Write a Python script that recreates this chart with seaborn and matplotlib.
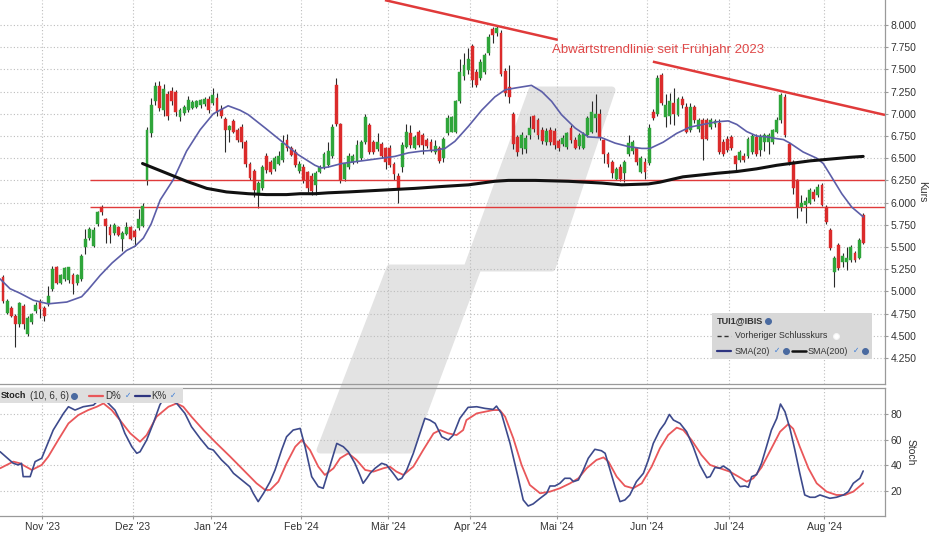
import numpy as np
import matplotlib
matplotlib.use("Agg")
import matplotlib.pyplot as plt
import seaborn as sns
from matplotlib.patches import Polygon, Rectangle
from matplotlib.lines import Line2D

# ---------------- data ----------------
open_ = [5.16, 4.76, 4.81, 4.72, 4.63, 4.83, 4.52, 4.65, 4.78, 4.89,
         4.81, 4.86, 5.03, 5.28, 5.10, 5.14, 5.13, 5.19, 5.09, 5.14,
         5.50, 5.60, 5.51, 5.76, 5.95, 5.81, 5.73, 5.66, 5.72, 5.59,
         5.65, 5.72, 5.68, 5.71, 5.74, 6.25, 6.78, 7.14, 7.31, 7.04,
         7.22, 7.26, 7.24, 6.96, 7.01, 7.04, 7.07, 7.08, 7.10, 7.11,
         7.17, 7.12, 7.18, 7.05, 6.94, 6.82, 6.92, 6.82, 6.85, 6.68,
         6.44, 6.36, 6.08, 6.16, 6.52, 6.46, 6.38, 6.44, 6.48, 6.70,
         6.61, 6.57, 6.36, 6.40, 6.34, 6.30, 6.20, 6.35, 6.40, 6.42,
         6.52, 7.32, 6.88, 6.27, 6.40, 6.46, 6.47, 6.50, 6.68, 6.87,
         6.68, 6.60, 6.66, 6.61, 6.61, 6.44, 6.30, 6.40, 6.63, 6.78,
         6.62, 6.80, 6.76, 6.71, 6.68, 6.57, 6.61, 6.50, 6.78, 6.80,
         6.80, 7.14, 7.42, 7.49, 7.76, 7.47, 7.40, 7.47, 7.68, 7.96,
         7.91, 7.91, 7.48, 7.30, 7.00, 6.74, 6.62, 6.60, 6.76, 6.97,
         6.93, 6.82, 6.68, 6.82, 6.81, 6.69, 6.66, 6.63, 6.84, 6.71,
         6.64, 6.62, 6.76, 6.80, 6.95, 7.00, 6.70, 6.55, 6.46, 6.27,
         6.40, 6.33, 6.55, 6.58, 6.61, 6.35, 6.46, 6.45, 7.02, 7.00,
         7.44, 6.96, 6.98, 7.12, 6.99, 7.17, 7.08, 6.82, 7.08, 6.83,
         6.93, 6.93, 6.85, 6.89, 6.90, 6.68, 6.72, 6.74, 6.52, 6.48,
         6.53, 6.53, 6.57, 6.74, 6.59, 6.68, 6.68, 6.68, 6.80, 6.93,
         7.19, 6.66, 6.46, 6.25, 5.95, 5.97, 6.00, 6.12, 6.08, 6.20,
         5.95, 5.69, 5.22, 5.52, 5.33, 5.33, 5.35, 5.43, 5.38, 5.86]
high = [5.19, 4.91, 4.83, 4.74, 4.88, 4.86, 4.72, 4.76, 4.88, 4.91,
        4.83, 5.06, 5.29, 5.29, 5.20, 5.28, 5.28, 5.21, 5.20, 5.42,
        5.70, 5.72, 5.72, 5.91, 5.97, 5.83, 5.76, 5.77, 5.74, 5.68,
        5.78, 5.74, 5.70, 5.93, 6.00, 6.85, 7.18, 7.36, 7.37, 7.33,
        7.26, 7.30, 7.27, 7.06, 7.10, 7.20, 7.15, 7.16, 7.17, 7.19,
        7.20, 7.29, 7.23, 7.10, 6.96, 6.87, 6.94, 6.84, 6.88, 6.70,
        6.46, 6.38, 6.24, 6.42, 6.56, 6.48, 6.52, 6.58, 6.76, 6.77,
        6.64, 6.60, 6.47, 6.43, 6.36, 6.33, 6.36, 6.42, 6.57, 6.68,
        6.88, 7.40, 6.90, 6.45, 6.56, 6.55, 6.70, 6.70, 7.00, 6.90,
        6.70, 6.78, 6.68, 6.63, 6.65, 6.46, 6.33, 6.68, 6.88, 6.87,
        6.76, 6.82, 6.78, 6.73, 6.72, 6.70, 6.64, 6.74, 6.99, 6.98,
        7.16, 7.62, 7.68, 7.74, 7.79, 7.50, 7.62, 7.68, 7.90, 7.98,
        8.00, 7.94, 7.52, 7.55, 7.02, 6.76, 6.80, 6.76, 6.98, 6.99,
        6.95, 6.85, 6.84, 6.85, 6.84, 6.72, 6.76, 6.80, 6.87, 6.74,
        6.78, 6.80, 6.97, 7.14, 7.22, 7.05, 6.72, 6.57, 6.48, 6.40,
        6.43, 6.48, 6.76, 6.70, 6.63, 6.52, 6.50, 6.88, 7.05, 7.44,
        7.46, 7.22, 7.23, 7.29, 7.19, 7.20, 7.12, 7.12, 7.10, 6.95,
        6.95, 6.95, 6.95, 6.94, 6.94, 6.72, 6.75, 6.76, 6.54, 6.59,
        6.56, 6.74, 6.77, 6.77, 6.77, 6.78, 6.78, 6.83, 6.96, 7.23,
        7.22, 6.68, 6.48, 6.27, 6.08, 6.06, 6.16, 6.15, 6.21, 6.22,
        5.97, 5.71, 5.40, 5.54, 5.43, 5.50, 5.52, 5.46, 5.60, 5.88]
low = [4.87, 4.74, 4.71, 4.37, 4.60, 4.58, 4.50, 4.63, 4.76, 4.70,
       4.67, 4.84, 5.00, 5.08, 5.08, 5.12, 5.10, 4.97, 5.07, 5.12,
       5.42, 5.58, 5.50, 5.74, 5.86, 5.55, 5.55, 5.64, 5.62, 5.46,
       5.63, 5.58, 5.51, 5.69, 5.72, 6.20, 6.74, 7.10, 7.03, 6.98,
       6.93, 7.10, 6.98, 6.92, 6.99, 7.02, 7.05, 7.06, 7.07, 7.09,
       7.01, 7.10, 6.98, 6.95, 6.57, 6.68, 6.78, 6.68, 6.62, 6.40,
       6.26, 6.06, 5.94, 6.14, 6.33, 6.32, 6.36, 6.42, 6.46, 6.58,
       6.52, 6.40, 6.33, 6.22, 6.12, 6.08, 6.08, 6.33, 6.38, 6.40,
       6.50, 6.86, 6.22, 6.24, 6.38, 6.44, 6.45, 6.48, 6.66, 6.55,
       6.55, 6.58, 6.50, 6.38, 6.40, 6.26, 6.00, 6.35, 6.61, 6.62,
       6.60, 6.63, 6.55, 6.62, 6.57, 6.55, 6.45, 6.46, 6.76, 6.79,
       6.78, 7.12, 7.38, 7.45, 7.30, 7.30, 7.38, 7.45, 7.66, 7.80,
       7.88, 7.43, 7.20, 7.12, 6.60, 6.53, 6.55, 6.56, 6.72, 6.80,
       6.72, 6.66, 6.65, 6.65, 6.60, 6.58, 6.64, 6.60, 6.67, 6.60,
       6.60, 6.60, 6.74, 6.78, 6.80, 6.70, 6.45, 6.40, 6.28, 6.25,
       6.24, 6.23, 6.52, 6.55, 6.42, 6.33, 6.27, 6.42, 6.93, 6.97,
       7.10, 6.85, 6.89, 6.87, 6.97, 7.06, 6.78, 6.80, 6.90, 6.80,
       6.48, 6.70, 6.83, 6.85, 6.55, 6.53, 6.57, 6.59, 6.37, 6.46,
       6.46, 6.50, 6.55, 6.53, 6.53, 6.58, 6.55, 6.66, 6.78, 6.90,
       6.74, 6.42, 6.10, 5.83, 5.90, 5.77, 5.98, 6.02, 6.06, 5.96,
       5.76, 5.47, 5.05, 5.24, 5.28, 5.24, 5.33, 5.33, 5.36, 5.53]
close = [4.89, 4.89, 4.72, 4.63, 4.87, 4.63, 4.70, 4.74, 4.85, 4.80,
         4.72, 4.95, 5.25, 5.10, 5.19, 5.26, 5.27, 5.08, 5.18, 5.40,
         5.59, 5.70, 5.69, 5.89, 5.89, 5.74, 5.63, 5.75, 5.63, 5.66,
         5.72, 5.59, 5.61, 5.81, 5.96, 6.82, 7.10, 7.31, 7.06, 7.28,
         6.98, 7.14, 7.02, 7.04, 7.08, 7.15, 7.13, 7.14, 7.15, 7.17,
         7.04, 7.21, 7.02, 6.97, 6.82, 6.86, 6.80, 6.70, 6.68, 6.44,
         6.28, 6.14, 6.22, 6.40, 6.37, 6.35, 6.50, 6.53, 6.67, 6.62,
         6.54, 6.42, 6.44, 6.25, 6.16, 6.13, 6.33, 6.40, 6.55, 6.58,
         6.85, 6.89, 6.26, 6.43, 6.52, 6.53, 6.65, 6.68, 6.96, 6.57,
         6.57, 6.68, 6.53, 6.46, 6.42, 6.32, 6.14, 6.65, 6.80, 6.65,
         6.74, 6.65, 6.65, 6.64, 6.59, 6.64, 6.47, 6.72, 6.95, 6.96,
         7.14, 7.47, 7.55, 7.62, 7.38, 7.32, 7.58, 7.66, 7.87, 7.89,
         7.97, 7.45, 7.23, 7.19, 6.66, 6.57, 6.76, 6.73, 6.84, 6.83,
         6.76, 6.69, 6.81, 6.68, 6.65, 6.62, 6.73, 6.78, 6.70, 6.62,
         6.76, 6.77, 6.95, 7.02, 7.00, 6.74, 6.55, 6.44, 6.33, 6.38,
         6.27, 6.46, 6.67, 6.68, 6.46, 6.50, 6.35, 6.84, 6.95, 7.40,
         7.12, 7.10, 7.14, 7.00, 7.17, 7.10, 6.80, 7.08, 6.93, 6.93,
         6.72, 6.72, 6.93, 6.92, 6.57, 6.55, 6.59, 6.61, 6.44, 6.57,
         6.48, 6.72, 6.75, 6.55, 6.74, 6.76, 6.76, 6.82, 6.93, 7.21,
         6.76, 6.46, 6.16, 5.95, 6.00, 6.02, 6.14, 6.04, 6.18, 5.97,
         5.78, 5.49, 5.38, 5.26, 5.40, 5.38, 5.50, 5.35, 5.58, 5.55]

# SMA lines (trading-day index, value)
sma20 = [(-0.7, 5.14), (1.7, 5.03), (4.1, 4.98), (7.4, 4.90), (11.0, 4.86), (15.5, 4.88),
         (19.1, 4.94), (20.7, 5.02), (23.6, 5.18), (26.5, 5.32), (30.0, 5.46), (32.1, 5.51),
         (34.1, 5.60), (36.0, 5.76), (38.2, 6.03), (41.4, 6.26), (44.6, 6.58), (47.9, 6.82),
         (51.1, 7.00), (54.7, 7.09), (57.6, 7.04), (59.6, 6.99), (63.7, 6.84), (67.7, 6.69),
         (71.7, 6.54), (75.8, 6.42), (77.4, 6.39), (79.0, 6.40), (82.3, 6.44), (85.5, 6.46),
         (88.8, 6.48), (92.0, 6.50), (95.2, 6.52), (98.5, 6.56), (101.7, 6.58), (105.0, 6.59),
         (107.4, 6.61), (109.8, 6.69), (113.1, 6.86), (116.3, 7.04), (119.5, 7.19), (122.0, 7.27),
         (124.4, 7.29), (128.4, 7.32), (130.9, 7.25), (133.3, 7.14), (135.7, 6.99), (139.0, 6.84),
         (142.2, 6.74), (145.5, 6.73), (148.7, 6.67), (152.0, 6.63), (155.2, 6.61), (157.2, 6.61),
         (160.4, 6.68), (163.7, 6.78), (166.9, 6.85), (170.1, 6.88), (173.4, 6.91), (176.2, 6.92),
         (178.3, 6.88), (180.7, 6.80), (183.1, 6.75), (185.6, 6.74), (188.0, 6.72), (189.6, 6.71),
         (191.2, 6.67), (194.4, 6.57), (197.7, 6.50), (199.3, 6.44), (201.3, 6.29), (203.8, 6.10),
         (206.2, 5.95), (209.0, 5.84)]
sma200 = [(33.9, 6.44), (39.8, 6.33), (44.6, 6.24), (49.5, 6.16), (54.3, 6.12), (59.6, 6.10),
          (64.0, 6.09), (68.9, 6.09), (72.2, 6.10), (75.8, 6.10), (79.0, 6.11), (83.9, 6.12),
          (88.0, 6.13), (92.0, 6.14), (96.0, 6.15), (100.1, 6.16), (106.2, 6.18), (113.1, 6.20),
          (119.5, 6.24), (122.8, 6.25), (129.3, 6.25), (137.4, 6.24), (145.5, 6.22), (150.3, 6.20),
          (156.8, 6.21), (159.6, 6.23), (165.2, 6.29), (173.4, 6.33), (178.3, 6.35), (183.1, 6.38),
          (188.0, 6.42), (191.2, 6.44), (196.1, 6.47), (201.0, 6.49), (205.8, 6.51), (209.0, 6.52)]

# Stochastic (10, 6, 6)
stoch_k = [(-0.7, 50.6), (2.5, 41.6), (3.7, 40.3), (4.5, 41.6), (4.9, 31.2), (6.6, 31.2), (7.8, 42.9),
           (9.4, 45.5), (12.2, 67.5), (14.7, 80.5), (15.9, 85.7), (17.5, 83.1), (19.5, 85.7), (22.0, 87.0),
           (23.6, 92.2), (25.2, 89.6), (27.2, 83.1), (28.4, 75.3), (29.6, 65.0), (31.3, 54.5), (32.5, 49.4),
           (33.3, 50.6), (34.9, 59.7), (36.5, 72.7), (38.1, 87.0), (39.0, 92.2), (40.6, 90.9), (42.2, 88.3),
           (44.2, 80.5), (45.8, 70.1), (47.9, 61.0), (49.9, 53.2), (51.1, 51.9), (53.1, 44.2), (54.8, 39.0),
           (56.0, 33.8), (58.0, 28.6), (60.0, 23.4), (60.8, 18.2), (62.0, 11.7), (63.3, 18.2), (64.9, 27.3),
           (66.1, 36.4), (67.7, 52.0), (68.9, 62.3), (70.5, 67.5), (72.2, 68.8), (73.4, 54.5), (75.0, 31.2),
           (76.6, 23.4), (77.8, 22.1), (79.4, 39.0), (81.1, 57.1), (82.7, 54.5), (83.9, 50.6), (85.5, 41.6),
           (86.7, 32.5), (87.5, 26.0), (88.4, 29.9), (89.2, 33.8), (90.4, 37.7), (92.0, 41.6), (93.2, 40.3),
           (94.8, 33.8), (96.0, 28.6), (96.9, 29.9), (98.1, 36.4), (99.7, 49.4), (101.3, 64.9), (102.5, 76.6),
           (103.7, 75.3), (105.0, 72.7), (106.6, 62.3), (108.2, 59.7), (109.4, 63.6), (111.0, 76.6),
           (113.0, 85.2), (115.1, 85.7), (117.1, 84.4), (119.1, 83.6), (119.9, 86.2), (121.1, 80.5),
           (123.2, 57.1), (125.2, 29.9), (126.4, 13.0), (127.6, 8.3), (128.8, 9.9), (130.5, 14.3),
           (132.1, 18.2), (132.9, 23.9), (134.1, 23.9), (135.3, 26.0), (136.5, 29.9), (137.8, 29.9),
           (138.6, 27.3), (139.8, 28.6), (141.0, 36.4), (142.2, 45.5), (143.8, 52.5), (145.4, 51.4),
           (146.3, 49.4), (147.5, 36.4), (148.7, 23.4), (149.9, 11.7), (151.1, 13.0), (152.3, 16.9),
           (153.9, 27.3), (155.6, 33.8), (156.8, 44.2), (158.0, 57.1), (159.6, 67.5), (160.8, 72.7),
           (161.9, 79.7), (162.9, 75.3), (164.5, 72.7), (166.1, 66.2), (167.7, 54.5), (169.3, 40.3),
           (171.0, 30.4), (171.8, 31.2), (173.0, 38.4), (174.2, 37.7), (175.0, 39.5), (176.6, 36.1),
           (177.8, 28.6), (179.1, 23.4), (180.3, 23.9), (181.1, 22.9), (181.9, 31.2), (183.1, 32.7),
           (184.3, 41.6), (185.5, 54.5), (186.7, 67.5), (188.0, 76.6), (188.9, 87.8), (190.0, 81.8),
           (191.2, 68.8), (192.4, 52.0), (193.6, 33.8), (194.8, 16.9), (196.1, 15.1), (197.3, 15.1),
           (198.5, 16.9), (199.7, 15.6), (200.9, 14.3), (202.5, 15.1), (204.2, 16.9), (205.4, 19.5),
           (206.6, 26.0), (208.2, 29.9), (209.0, 35.6)]
stoch_d = [(-0.7, 37.7), (2.5, 42.9), (4.1, 41.6), (7.0, 36.4), (9.4, 40.3), (11.0, 46.8), (13.4, 59.7),
           (15.9, 72.7), (18.3, 79.2), (20.7, 83.1), (22.8, 85.7), (24.4, 88.3), (26.4, 83.1), (28.4, 75.3),
           (30.9, 65.0), (33.3, 58.4), (34.9, 63.6), (37.3, 77.9), (40.2, 85.7), (42.2, 88.3), (43.8, 85.7),
           (45.8, 77.9), (48.7, 67.5), (51.9, 57.1), (55.2, 46.8), (58.4, 36.4), (61.6, 26.0), (63.7, 20.8),
           (64.9, 20.8), (66.9, 27.3), (68.9, 41.6), (71.0, 54.5), (72.6, 59.7), (74.6, 51.9), (76.6, 39.0),
           (78.2, 32.5), (80.3, 37.7), (81.9, 45.5), (83.9, 49.4), (85.9, 44.2), (88.0, 36.4), (90.0, 35.1),
           (92.4, 37.7), (94.0, 39.0), (95.6, 35.1), (97.3, 32.5), (99.7, 39.0), (102.1, 52.0), (104.6, 64.9),
           (106.2, 67.5), (108.2, 64.9), (110.2, 63.6), (111.8, 67.5), (112.6, 75.3), (115.1, 80.5),
           (117.1, 81.8), (119.1, 83.1), (120.7, 83.1), (122.0, 77.9), (124.0, 61.0), (126.0, 40.3),
           (128.0, 24.7), (130.5, 18.2), (132.9, 19.5), (135.3, 22.1), (137.8, 26.0), (139.8, 29.9),
           (141.8, 37.7), (144.2, 44.2), (145.9, 46.2), (147.1, 42.9), (149.1, 31.2), (151.1, 23.9),
           (153.1, 22.1), (155.2, 26.0), (157.6, 39.0), (159.6, 53.2), (161.6, 63.6), (163.7, 69.4),
           (165.3, 67.5), (167.3, 59.7), (169.7, 48.1), (171.8, 40.3), (174.2, 37.7), (176.6, 35.1),
           (178.7, 31.2), (180.7, 27.3), (182.3, 29.9), (184.3, 38.4), (186.7, 53.2), (188.8, 66.2),
           (190.8, 72.2), (192.0, 68.5), (193.6, 54.5), (195.7, 37.7), (197.7, 26.0), (200.1, 19.5),
           (202.5, 16.9), (204.6, 16.9), (206.6, 19.5), (209.0, 26.0)]

month_labels = ["Nov '23", "Dez '23", "Jan '24", "Feb '24", "Mär '24",
                "Apr '24", "Mai '24", "Jun '24", "Jul '24", "Aug '24"]
month_pos = [9.5, 31.5, 50.5, 72.5, 93.5, 113.5, 134.5, 156.5, 176.5, 199.5]

support_levels = [6.26, 5.955]
support_start = 21.2
trend_start = (92.8, 8.28)
trend_end = (214.3, 6.987)
trend_gap = (134.8, 157.9)
trend_text = "Abwärtstrendlinie seit Frühjahr 2023"

# ---------------- styling ----------------
sns.set_theme(style="white")
plt.rcParams['font.family'] = ['Liberation Sans', 'DejaVu Sans']
plt.rcParams['axes.unicode_minus'] = False

W, H = 930, 540
def fx(x):
    return x / W
def fy(y):
    return 1 - y / H

GREEN = '#2fa53a'
RED = '#db2b2b'
GRID = '#bdbdbd'
SPINE = '#9a9a9a'
TXT = '#333333'

fig = plt.figure(figsize=(9.3, 5.4), dpi=100, facecolor='white')
ax = fig.add_axes([fx(0), fy(384), fx(885), 384 / H])
ax2 = fig.add_axes([fx(0), fy(516), fx(885), (516 - 388) / H])

# watermark logo (behind everything)
logo = [(320, 450), (410, 450), (478, 268), (552, 268), (612, 90), (532, 90), (467, 268), (390, 268)]
poly = Polygon([(fx(x), fy(y)) for x, y in logo], closed=True, transform=fig.transFigure,
               facecolor='#e3e3e3', edgecolor='#e3e3e3', lw=5, joinstyle='round', zorder=-5)
fig.add_artist(poly)

XMIN, XMAX = -0.73, 214.3
for a in (ax, ax2):
    a.set_facecolor('none')
    a.set_xlim(XMIN, XMAX)
    a.spines['left'].set_visible(False)
    for s in ('right', 'bottom', 'top'):
        a.spines[s].set_color(SPINE)
        a.spines[s].set_linewidth(0.9)
    a.set_axisbelow(True)
    a.grid(True, color=GRID, linestyle=(0, (1, 2)), linewidth=0.8)
    a.set_xticks(month_pos)
ax.spines['top'].set_visible(False)

# ---- main price panel ----
idx = np.arange(len(close))
o = np.array(open_); c = np.array(close); h = np.array(high); l = np.array(low)
up = c >= o
colors = np.where(up, GREEN, RED)
ax.vlines(idx, l, h, color='#2a2a2a', linewidth=0.8, zorder=2)
body_bottom = np.minimum(o, c)
body_h = np.maximum(np.abs(c - o), 0.012)
ax.bar(idx, body_h, bottom=body_bottom, width=0.7, color=colors, edgecolor=colors,
       linewidth=0.3, zorder=3)

ax.hlines(support_levels, support_start, XMAX, color='#e03a3a', linewidth=1.0, zorder=2.5)

sx, sy = zip(*sma20)
sns.lineplot(x=list(sx), y=list(sy), ax=ax, color='#5c5ea8', linewidth=1.2,
             estimator=None, sort=False, zorder=4)
bx, by = zip(*sma200)
sns.lineplot(x=list(bx), y=list(by), ax=ax, color='#111111', linewidth=2.2,
             estimator=None, sort=False, zorder=4)

# trend line with gap for its label
slope = (trend_end[1] - trend_start[1]) / (trend_end[0] - trend_start[0])
def ty(x):
    return trend_start[1] + (x - trend_start[0]) * slope
ax.plot([trend_start[0], trend_gap[0]], [ty(trend_start[0]), ty(trend_gap[0])],
        color='#e03a3a', linewidth=1.8, zorder=5, solid_capstyle='butt')
ax.plot([trend_gap[1], trend_end[0]], [ty(trend_gap[1]), ty(trend_end[0])],
        color='#e03a3a', linewidth=1.8, zorder=5, solid_capstyle='butt')
ax.text(133.4, 7.72, trend_text, color='#e04848', fontsize=9.5, ha='left', va='center', zorder=6)

ax.set_ylim(3.957, 8.2815)
yt = np.arange(4.25, 8.001, 0.25)
ax.yaxis.tick_right()
ax.set_yticks(yt)
ax.set_yticklabels([f"{v:.3f}" for v in yt])
ax.tick_params(axis='y', right=True, length=2.5, width=0.8, pad=1.5, labelsize=7.5,
               labelcolor=TXT, color=SPINE)
ax.tick_params(axis='x', length=0, labelbottom=False)
ax.set_xlabel(''); ax.set_ylabel('')

# ---- stochastic panel ----
kx, ky = zip(*stoch_k)
dx, dy = zip(*stoch_d)
sns.lineplot(x=list(dx), y=list(dy), ax=ax2, color='#e9575a', linewidth=1.3,
             estimator=None, sort=False, zorder=3)
sns.lineplot(x=list(kx), y=list(ky), ax=ax2, color='#3d4a8c', linewidth=1.2,
             estimator=None, sort=False, zorder=4)
ax2.set_ylim(0.5, 100.3)
ax2.yaxis.tick_right()
ax2.set_yticks([20, 40, 60, 80])
ax2.tick_params(axis='y', right=True, length=2.5, width=0.8, pad=1.5, labelsize=7.5,
                labelcolor=TXT, color=SPINE)
ax2.set_xticklabels(month_labels)
ax2.tick_params(axis='x', bottom=True, length=2.5, width=0.8, pad=2, labelsize=7.5,
                labelcolor=TXT, color=SPINE)
ax2.set_xlabel(''); ax2.set_ylabel('')

# axis titles
fig.text(fx(922), fy(192), "Kurs", rotation=270, ha='center', va='center', fontsize=7.5, color=TXT)
fig.text(fx(911), fy(452), "Stoch", rotation=270, ha='center', va='center', fontsize=7.5, color=TXT)

# ---- main legend box ----
fig.add_artist(Rectangle((fx(711.5), fy(358.5)), fx(160.5), 46 / H, transform=fig.transFigure,
                         facecolor='#d8d8d8', edgecolor='none', zorder=10))
LF = 6.4
def ftext(x, y, s, **kw):
    kw.setdefault('fontsize', LF)
    kw.setdefault('color', TXT)
    fig.text(fx(x), fy(y), s, ha='left', va='center', zorder=11, **kw)
def fline(x0, x1, y, **kw):
    fig.add_artist(Line2D([fx(x0), fx(x1)], [fy(y), fy(y)], transform=fig.transFigure, zorder=11, **kw))
def ficon(x, y, col='#4a6aa0', fc=None):
    fig.add_artist(Line2D([fx(x)], [fy(y)], transform=fig.transFigure, marker='o', markersize=4.2,
                          markerfacecolor=fc or col, markeredgecolor=col, markeredgewidth=0.8,
                          linestyle='none', zorder=11))

ftext(717, 321, "TUI1@IBIS", fontweight='bold', fontsize=6.6)
ficon(768, 321)
fline(717, 731, 335.5, color='#333333', linewidth=1.0, linestyle=(0, (3, 2)))
ftext(735, 335.5, "Vorheriger Schlusskurs")
ficon(836, 335.5, col='#f4f4f4', fc='#ffffff')
fline(717, 731, 351, color='#2e3580', linewidth=1.6)
ftext(735, 351, "SMA(20)")
ftext(774, 351.5, "✓", color='#3a7bd5', fontsize=5.5)
ficon(786, 351)
fline(792, 806, 351, color='#111111', linewidth=1.8)
ftext(808, 351, "SMA(200)")
ftext(853, 351.5, "✓", color='#3a7bd5', fontsize=5.5)
ficon(865, 351)

# ---- stochastic legend box ----
fig.add_artist(Rectangle((fx(0), fy(403)), fx(183), 15 / H, transform=fig.transFigure,
                         facecolor='#dedede', edgecolor='none', zorder=10))
ftext(1, 396, "Stoch", fontsize=6.6, fontweight='bold', color='#222222')
ftext(30, 396, "(10, 6, 6)", fontsize=7.0)
ficon(74, 396)
fline(89, 103, 396, color='#e9575a', linewidth=1.6)
ftext(105, 396, "D%", fontsize=7.0)
ftext(125, 396.5, "✓", color='#3a7bd5', fontsize=5.5)
fline(135, 150, 396, color='#2e3580', linewidth=1.6)
ftext(151, 396, "K%", fontsize=7.0)
ftext(170, 396.5, "✓", color='#3a7bd5', fontsize=5.5)

fig.savefig("out.png", dpi=100, facecolor='white')
